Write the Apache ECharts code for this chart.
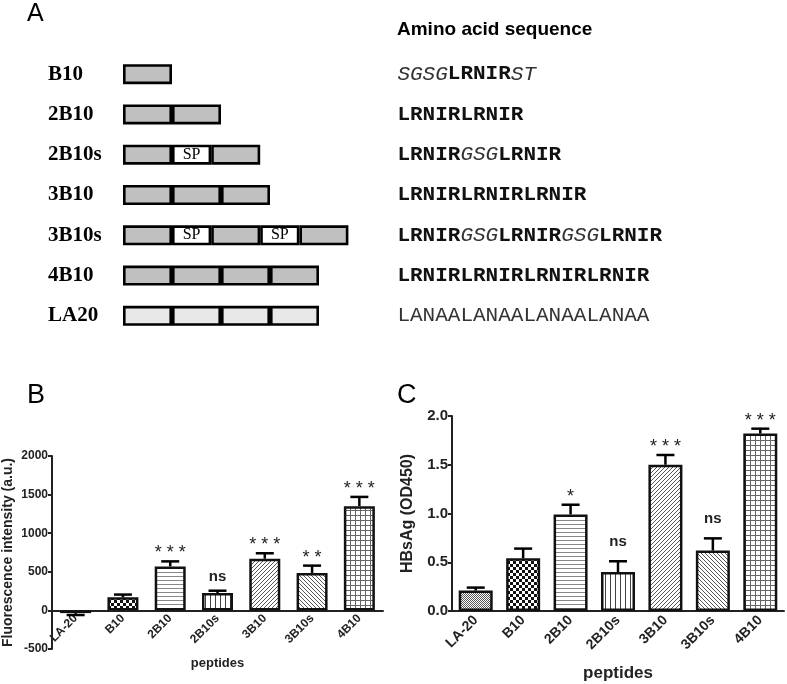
<!DOCTYPE html>
<html><head><meta charset="utf-8">
<script src="https://cdn.jsdelivr.net/npm/echarts@6/dist/echarts.min.js"></script>
<style>html,body{margin:0;padding:0;background:#fff}#c{width:787px;height:684px}</style>
</head><body><div id="c"></div>
<script>
// ---- Panel A data ----
const constructs = ['B10', '2B10', '2B10s', '3B10', '3B10s', '4B10', 'LA20'];
const constructSegments = [
  ['B'], ['B', 'B'], ['B', 'SP', 'B'], ['B', 'B', 'B'],
  ['B', 'SP', 'B', 'SP', 'B'], ['B', 'B', 'B', 'B'], ['L', 'L', 'L', 'L']
];
const segmentLength = { B: 1, SP: 0.8, L: 1 };
const sequences = [
  [['SGSG', 'i'], ['LRNIR', 'b'], ['ST', 'i']],
  [['LRNIRLRNIR', 'b']],
  [['LRNIR', 'b'], ['GSG', 'i'], ['LRNIR', 'b']],
  [['LRNIRLRNIRLRNIR', 'b']],
  [['LRNIR', 'b'], ['GSG', 'i'], ['LRNIR', 'b'], ['GSG', 'i'], ['LRNIR', 'b']],
  [['LRNIRLRNIRLRNIRLRNIR', 'b']],
  [['LANAALANAALANAALANAA', 'n']]
];
// ---- Panels B / C data ----
const peptides = ['LA-20', 'B10', '2B10', '2B10s', '3B10', '3B10s', '4B10'];
const fluorMean = [-35, 170, 570, 225, 670, 485, 1350];
const fluorSEM = [25, 35, 65, 30, 70, 95, 120];
const fluorSig = ['', '', '***', 'ns', '***', '**', '***'];
const hbsagMean = [0.21, 0.54, 0.99, 0.40, 1.50, 0.62, 1.82];
const hbsagSEM = [0.03, 0.10, 0.10, 0.11, 0.10, 0.125, 0.05];
const hbsagSig = ['', '', '*', 'ns', '***', 'ns', '***'];

// ---- patterns ----
function pat(w, h, draw) {
  const c = document.createElement('canvas'); c.width = w; c.height = h;
  const g = c.getContext('2d'); g.fillStyle = '#fff'; g.fillRect(0, 0, w, h); draw(g);
  return { image: c, repeat: 'repeat' };
}
const patterns = [
  pat(2, 2, g => { g.fillStyle = '#555'; g.fillRect(0, 0, 1, 1); g.fillRect(1, 1, 1, 1); }),
  pat(6, 6, g => { g.fillStyle = '#111'; g.fillRect(0, 0, 3, 3); g.fillRect(3, 3, 3, 3); }),
  pat(4, 4, g => { g.fillStyle = '#888'; g.fillRect(0, 0, 4, 1); }),
  pat(5, 5, g => { g.fillStyle = '#444'; g.fillRect(0, 0, 1, 5); }),
  pat(4, 4, g => { g.fillStyle = '#555'; for (let i = 0; i < 4; i++) g.fillRect(i, 3 - i, 1, 1); }),
  pat(4, 4, g => { g.fillStyle = '#555'; for (let i = 0; i < 4; i++) g.fillRect(i, i, 1, 1); }),
  pat(5, 5, g => { g.fillStyle = '#666'; g.fillRect(0, 0, 5, 1); g.fillRect(0, 0, 1, 5); })
];

const segFill = { B: '#c0c0c0', SP: '#ffffff', L: '#e8e8e8' };
const maxSegs = Math.max(...constructSegments.map(s => s.length));
const aSeries = [];
for (let k = 0; k < maxSegs; k++) {
  aSeries.push({
    type: 'bar', stack: 'a', xAxisIndex: 0, yAxisIndex: 0, barWidth: 20,
    data: constructSegments.map(segs => segs[k] ? {
      value: segmentLength[segs[k]],
      itemStyle: { color: segFill[segs[k]] },
      label: { show: segs[k] === 'SP', formatter: 'SP' }
    } : '-'),
    itemStyle: { borderColor: '#000', borderWidth: 2.6 },
    label: { position: 'inside', fontFamily: 'Liberation Serif', fontSize: 16, color: '#000' },
    silent: true, animation: false
  });
}

const sans = 'Liberation Sans';
const mono = '"Liberation Mono", "Courier New", Courier, "Nimbus Mono PS", FreeMono, monospace';
function errSeries(xi, yi, mean, sem, sig, nsOffset) {
  return {
    type: 'custom', xAxisIndex: xi, yAxisIndex: yi, animation: false, silent: true, z: 5,
    data: mean.map((v, i) => [i, v, sem[i]]),
    renderItem(params, api) {
      const i = api.value(0), v = api.value(1), e = api.value(2);
      const t = v >= 0 ? v + e : v - e;
      const p0 = api.coord([i, v]), p1 = api.coord([i, t]);
      const hw = 9;
      const ch = [
        { type: 'line', shape: { x1: p0[0], y1: p0[1], x2: p1[0], y2: p1[1] }, style: { stroke: '#000', lineWidth: 2.5 } },
        { type: 'line', shape: { x1: p1[0] - hw, y1: p1[1], x2: p1[0] + hw, y2: p1[1] }, style: { stroke: '#000', lineWidth: 2.5 } }
      ];
      const s = sig[params.dataIndex];
      if (s) {
        const isNs = s === 'ns';
        ch.push({ type: 'text', x: p1[0], y: p1[1] - (isNs ? nsOffset : -1), style: {
          text: isNs ? s : s.split('').join(' '), fill: '#222',
          font: isNs ? `bold 15px "${sans}"` : `18px "${sans}"`,
          textAlign: 'center', textVerticalAlign: 'bottom' } });
      }
      return { type: 'group', children: ch };
    }
  };
}

const axisLineStyle = { color: '#222', width: 2 };
const tStyle = (size, weight) => ({ fontFamily: sans, fontWeight: weight, fontSize: size, color: '#000' });
// zero of panel B sits (0 - -500)/(2000 - -500) of the grid height above its bottom
const bGridHeight = 193;
const bZeroOffset = -bGridHeight * (0 - (-500)) / (2000 - (-500));
const option = {
  backgroundColor: '#fff',
  animation: false,
  title: [
    { text: 'A', left: 27, top: 2, padding: 0, textStyle: tStyle(25, 'normal') },
    { text: 'Amino acid sequence', left: 397, top: 20, padding: 0, textStyle: tStyle(19, 'bold') },
    { text: 'B', left: 27, top: 382, padding: 0, textStyle: tStyle(27, 'normal') },
    { text: 'C', left: 397, top: 382, padding: 0, textStyle: tStyle(27, 'normal') }
  ],
  grid: [
    { left: 123, top: 54, width: 225.4, height: 282, outerBoundsMode: 'none' },
    { left: 52, top: 456, width: 331, height: bGridHeight, outerBoundsMode: 'none' },
    { left: 452, top: 416, width: 332, height: 195, outerBoundsMode: 'none' }
  ],
  xAxis: [
    { gridIndex: 0, type: 'value', min: 0, max: 4.6, show: false },
    { gridIndex: 1, type: 'category', data: peptides, offset: bZeroOffset,
      axisLine: { onZero: false, lineStyle: axisLineStyle },
      axisTick: { alignWithLabel: true, length: 5, lineStyle: axisLineStyle },
      axisLabel: { rotate: 45, margin: 6, fontFamily: sans, fontWeight: 'bold', fontSize: 12, color: '#222' },
      name: 'peptides', nameLocation: 'middle', nameGap: 47,
      nameTextStyle: { fontFamily: sans, fontWeight: 'bold', fontSize: 13, color: '#222' } },
    { gridIndex: 2, type: 'category', data: peptides,
      axisLine: { lineStyle: axisLineStyle },
      axisTick: { alignWithLabel: true, length: 6, lineStyle: axisLineStyle },
      axisLabel: { rotate: 45, margin: 7, fontFamily: sans, fontWeight: 'bold', fontSize: 14, color: '#222' },
      name: 'peptides', nameLocation: 'middle', nameGap: 54,
      nameTextStyle: { fontFamily: sans, fontWeight: 'bold', fontSize: 17, color: '#222' } }
  ],
  yAxis: [
    { gridIndex: 0, type: 'category', data: constructs, inverse: true,
      axisLine: { show: false }, axisTick: { show: false },
      axisLabel: { align: 'left', margin: 75, fontFamily: 'Liberation Serif', fontWeight: 'bold', fontSize: 21, color: '#000' } },
    { gridIndex: 0, type: 'category', data: constructs, inverse: true, position: 'right',
      axisLine: { show: false }, axisTick: { show: false },
      axisLabel: { align: 'left', margin: 49,
        formatter: (v, idx) => sequences[idx].map(([t, s]) => `{${s}|${t}}`).join(''),
        rich: {
          b: { fontFamily: mono, fontWeight: 'bold', fontSize: 21, color: '#111' },
          i: { fontFamily: mono, fontStyle: 'italic', fontWeight: 'normal', fontSize: 21, color: '#333' },
          n: { fontFamily: mono, fontWeight: 'normal', fontSize: 21, color: '#333' }
        } } },
    { gridIndex: 1, type: 'value', min: -500, max: 2000, interval: 500, splitLine: { show: false },
      axisLine: { show: true, lineStyle: axisLineStyle },
      axisTick: { show: true, length: 4, lineStyle: axisLineStyle },
      axisLabel: { margin: 4, formatter: v => String(v), fontFamily: sans, fontWeight: 'bold', fontSize: 12, color: '#222' },
      name: 'Fluorescence intensity (a.u.)', nameLocation: 'middle', nameGap: 37,
      nameTextStyle: { fontFamily: sans, fontWeight: 'bold', fontSize: 14, color: '#222' } },
    { gridIndex: 2, type: 'value', min: 0, max: 2, interval: 0.5, splitLine: { show: false },
      axisLine: { show: true, lineStyle: axisLineStyle },
      axisTick: { show: true, length: 4, lineStyle: axisLineStyle },
      axisLabel: { margin: 4, formatter: v => v.toFixed(1), fontFamily: sans, fontWeight: 'bold', fontSize: 15, color: '#222' },
      name: 'HBsAg (OD450)', nameLocation: 'middle', nameGap: 36,
      nameTextStyle: { fontFamily: sans, fontWeight: 'bold', fontSize: 16, color: '#222' } }
  ],
  series: [
    ...aSeries,
    { type: 'bar', xAxisIndex: 1, yAxisIndex: 2, barWidth: 31, silent: true,
      data: fluorMean.map((v, i) => ({ value: v, itemStyle: { color: patterns[i] } })),
      itemStyle: { borderColor: '#111', borderWidth: 2.5 } },
    errSeries(1, 2, fluorMean, fluorSEM, fluorSig, 6),
    { type: 'bar', xAxisIndex: 2, yAxisIndex: 3, barWidth: 34, silent: true,
      data: hbsagMean.map((v, i) => ({ value: v, itemStyle: { color: patterns[i] } })),
      itemStyle: { borderColor: '#111', borderWidth: 2.5 } },
    errSeries(2, 3, hbsagMean, hbsagSEM, hbsagSig, 12)
  ]
};
const chart = echarts.init(document.getElementById('c'), null, { renderer: 'canvas' });
chart.setOption(option);
</script></body></html>
